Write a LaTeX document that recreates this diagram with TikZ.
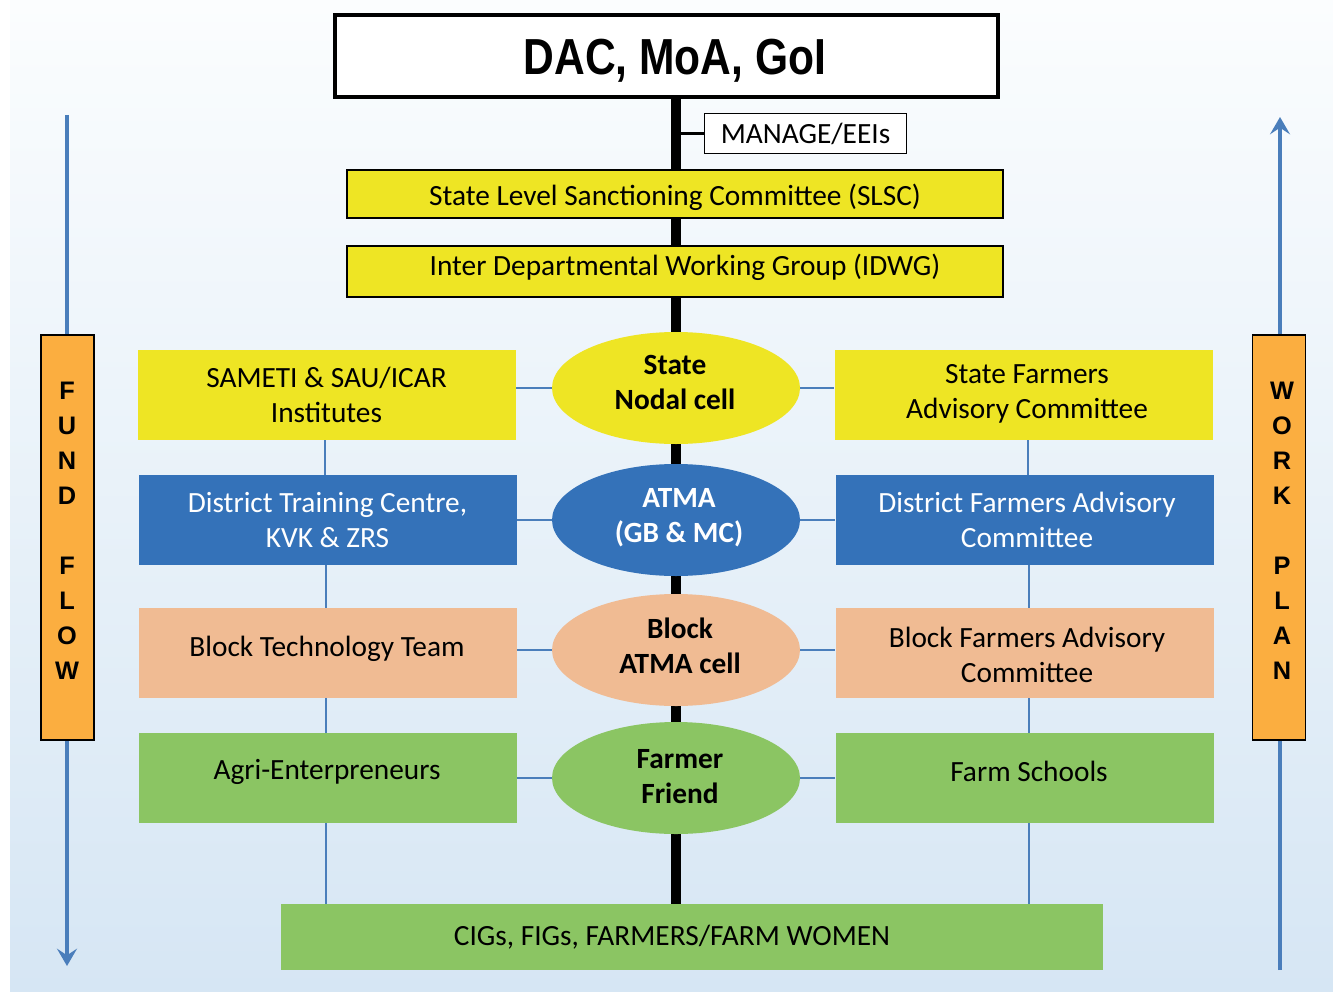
\documentclass[tikz,border=0pt]{standalone}
\usepackage{fontspec}
\setmainfont{Carlito}
\newfontfamily\arialf{Liberation Sans}
\usetikzlibrary{arrows.meta,shapes.geometric}
\definecolor{bgtop}{HTML}{FBFDFE}
\definecolor{bgbot}{HTML}{D6E6F4}
\definecolor{cyel}{HTML}{EEE524}
\definecolor{cblue}{HTML}{3472B9}
\definecolor{cpeach}{HTML}{F0BB93}
\definecolor{cgreen}{HTML}{8BC563}
\definecolor{corange}{HTML}{FBAE40}
\definecolor{cline}{HTML}{4A7EBB}
\pgfdeclarelayer{bglayer}
\pgfdeclarelayer{midlayer}
\pgfsetlayers{bglayer,midlayer,main}
\def\px{0.75pt}
\tikzset{
  body/.style={font=\fontsize{22}{26.25}\selectfont, align=center, inner sep=0pt},
  rowbox/.style={body, minimum width=378*\px, minimum height=90*\px},
  oval/.style={ellipse, inner sep=0pt, minimum width=248*\px, minimum height=112*\px},
  ovaltext/.style={body, font=\fontsize{22}{26.25}\selectfont\bfseries},
  wide/.style={draw=black, line width=0.9pt, fill=cyel, minimum width=656*\px, inner sep=0pt},
  thin/.style={draw=cline, line width=1.5pt},
  spine/.style={draw=black, line width=7.5pt},
  flow/.style={draw=cline, line width=3pt, -{Stealth[length=13pt,width=15pt,inset=5pt]}},
  side/.style={draw=black, line width=0.9pt, fill=corange, minimum width=53*\px, minimum height=405*\px, inner sep=0pt},
  sidetext/.style={font=\arialf\bfseries\fontsize{19}{26.25}\selectfont, align=center, inner sep=0pt}
}
\begin{document}
\begin{tikzpicture}[x=0.75pt,y=-0.75pt]
\useasboundingbox (0,0) rectangle (1333,991);
\begin{pgfonlayer}{bglayer}
\shade[top color=bgtop, bottom color=bgbot] (10,0) rectangle (1333,991);
\end{pgfonlayer}

% top
\node[draw=black, line width=3pt, fill=white, minimum width=663*\px, minimum height=82*\px, inner sep=0pt] (title) at (666,56.5) {};
\node[inner sep=0pt] (titletext) at (675,61)
  {\arialf\bfseries\fontsize{38}{40}\selectfont\scalebox{0.84}[1]{DAC, MoA, GoI}};
\node[body, draw=black, line width=1.4pt, fill=white, minimum width=202*\px, minimum height=40*\px] (manage) at (805.5,133.5) {MANAGE/EEIs};
\node[wide, minimum height=48*\px] (slsc) at (675,194) {};
\node[body] (slsct) at (675,197) {State Level Sanctioning Committee (SLSC)};
\node[wide, minimum height=51*\px] (idwg) at (675,271.5) {};
\node[body] (idwgt) at (685,267) {Inter Departmental Working Group (IDWG)};

% rows
\node[rowbox, fill=cyel] (L1) at (326.5,395) {SAMETI \& SAU/ICAR\\Institutes};
\node[rowbox, fill=cyel] (R1) at (1023.5,395) {};
\node[body] (R1t) at (1027,394) {State Farmers\\Advisory Committee};
\node[oval, fill=cyel] (E1) at (676,388) {};
\node[ovaltext] (E1t) at (675,382) {State\\Nodal cell};

\node[rowbox, fill=cblue, text=white] (L2) at (327.5,520) {District Training Centre,\\KVK \& ZRS};
\node[rowbox, fill=cblue] (R2) at (1024.5,520) {};
\node[body, text=white] (R2t) at (1027,520) {District Farmers Advisory\\Committee};
\node[oval, fill=cblue] (E2) at (676,520) {};
\node[ovaltext, text=white] (E2t) at (679,518) {ATMA\\(GB \& MC)};

\node[rowbox, fill=cpeach] (L3) at (327.5,653) {};
\node[body] (L3t) at (327,649) {Block Technology Team};
\node[rowbox, fill=cpeach] (R3) at (1024.5,653) {};
\node[body] (R3t) at (1027,655) {Block Farmers Advisory\\Committee};
\node[oval, fill=cpeach] (E3) at (676,650) {};
\node[ovaltext] (E3t) at (680,646) {Block\\ATMA cell};

\node[rowbox, fill=cgreen] (L4) at (327.5,778) {};
\node[body] (L4t) at (327,772) {Agri-Enterpreneurs};
\node[rowbox, fill=cgreen] (R4) at (1024.5,778) {};
\node[body] (R4t) at (1029,771) {Farm Schools};
\node[oval, fill=cgreen] (E4) at (676,778) {};
\node[ovaltext] (E4t) at (680,777) {Farmer\\Friend};

\node[fill=cgreen, minimum width=822*\px, minimum height=66*\px, inner sep=0pt] (B) at (692,937) {};
\node[body] (Bt) at (672,937) {CIGs, FIGs, FARMERS/FARM WOMEN};

% side boxes
\node[side] (FF) at (67.5,537.5) {};
\node[sidetext] (FFt) at (67,531) {F\\U\\N\\D\\[26.25pt]F\\L\\O\\W};
\node[side] (WP) at (1279,537.5) {};
\node[sidetext] (WPt) at (1282,531) {W\\O\\R\\K\\[26.25pt]P\\L\\A\\N};

\coordinate (fftop) at (67,115);
\coordinate (ffbot) at (67,966);
\coordinate (wpbot) at (1280,970);
\coordinate (wptop) at (1280,117);

\begin{pgfonlayer}{midlayer}
% flows
\draw[flow] (fftop) -- (ffbot);
\draw[flow] (wpbot) -- (wptop);
% spine
\draw[spine] (title.south -| E1) -- (B.north -| E1);
\draw[draw=black, line width=2.2pt] (manage.west) -- (manage.west -| E1);
% horizontal connectors
\foreach \r in {1,2,3,4}{
  \draw[thin] (L\r.east |- E\r) -- (E\r.west);
  \draw[thin] (E\r.east) -- (R\r.west |- E\r);
}
% vertical connectors
\draw[thin] ([xshift=-1.5pt]L1.south) -- ([xshift=-1.5pt]L1.south |- L2.north);
\draw[thin] ([xshift=-1.5pt]L2.south) -- ([xshift=-1.5pt]L2.south |- L3.north);
\draw[thin] ([xshift=-1.5pt]L3.south) -- ([xshift=-1.5pt]L3.south |- L4.north);
\draw[thin] ([xshift=-1.5pt]L4.south) -- ([xshift=-1.5pt]L4.south |- B.north);
\draw[thin] ([xshift=3.5pt]R1.south) -- ([xshift=3.5pt]R1.south |- R2.north);
\draw[thin] ([xshift=3.5pt]R2.south) -- ([xshift=3.5pt]R2.south |- R3.north);
\draw[thin] ([xshift=3.5pt]R3.south) -- ([xshift=3.5pt]R3.south |- R4.north);
\draw[thin] ([xshift=3.5pt]R4.south) -- ([xshift=3.5pt]R4.south |- B.north);
\end{pgfonlayer}
\end{tikzpicture}
\end{document}
